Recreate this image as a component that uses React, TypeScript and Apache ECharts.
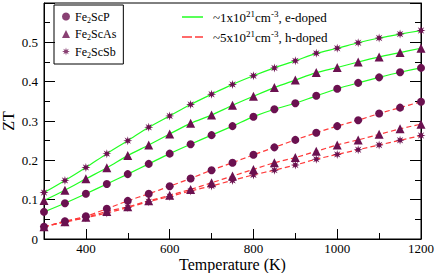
import React, { useEffect, useRef } from "react";
import * as echarts from "echarts";

const temps = [300, 350, 400, 450, 500, 550, 600, 650, 700, 750, 800, 850, 900, 950, 1000, 1050, 1100, 1150, 1200];

const pElec = [0.069, 0.091, 0.115, 0.140, 0.165, 0.191, 0.217, 0.241, 0.264, 0.287, 0.311, 0.330, 0.345, 0.364, 0.382, 0.397, 0.411, 0.424, 0.435];
const asElec = [0.098, 0.124, 0.153, 0.181, 0.212, 0.239, 0.267, 0.294, 0.315, 0.340, 0.363, 0.385, 0.404, 0.423, 0.436, 0.450, 0.463, 0.474, 0.485];
const sbElec = [0.118, 0.149, 0.182, 0.217, 0.250, 0.284, 0.313, 0.342, 0.368, 0.393, 0.415, 0.435, 0.453, 0.472, 0.485, 0.499, 0.511, 0.521, 0.530];

const pHole = [0.031, 0.045, 0.058, 0.077, 0.097, 0.115, 0.134, 0.154, 0.175, 0.194, 0.214, 0.233, 0.252, 0.270, 0.287, 0.302, 0.319, 0.334, 0.349];
const asHole = [0.031, 0.044, 0.055, 0.070, 0.082, 0.097, 0.111, 0.126, 0.143, 0.160, 0.177, 0.194, 0.207, 0.223, 0.239, 0.252, 0.266, 0.280, 0.292];
const sbHole = [0.031, 0.043, 0.054, 0.066, 0.080, 0.095, 0.108, 0.122, 0.135, 0.149, 0.163, 0.175, 0.188, 0.203, 0.215, 0.227, 0.239, 0.251, 0.263];

const compoundNames = ["Fe2ScP", "Fe2ScAs", "Fe2ScSb"];
const compoundLabels = ["Fe{sub|2}ScP", "Fe{sub|2}ScAs", "Fe{sub|2}ScSb"];
const dopingNames = ["e-doped", "h-doped"];
const dopingLabels = ["~1x10{sup|21}cm{sup|-3}, e-doped", "~5x10{sup|21}cm{sup|-3}, h-doped"];
const xMajorTicks = [400, 600, 800, 1000, 1200];

const FONT = "Liberation Serif";
const MARK = "#6b1150";
const GREEN = "#22ff22";
const RED = "#ff3a3a";

function starPath(): string {
  const parts: string[] = [];
  for (let i = 0; i < 16; i++) {
    const a = (i * Math.PI) / 8 - Math.PI / 2;
    const r = i % 2 === 0 ? 1 : 0.42;
    parts.push(`${i === 0 ? "M" : "L"}${(r * Math.cos(a)).toFixed(3)} ${(r * Math.sin(a)).toFixed(3)}`);
  }
  return "path://" + parts.join(" ") + " Z";
}

export default function App() {
  const ref = useRef<HTMLDivElement>(null);
  useEffect(() => {
    if (!ref.current) return;
    const chart = echarts.init(ref.current, undefined, { renderer: "svg" });
    const star = starPath();
    const symbols = ["circle", "triangle", star];
    const symSizes = [8, 9, 9];
    const elecData = [pElec, asElec, sbElec];
    const holeData = [pHole, asHole, sbHole];

    const series: any[] = [];
    for (let k = 0; k < 3; k++) {
      series.push({
        type: "line",
        name: compoundNames[k] + " e",
        data: temps.map((t, i) => [t, elecData[k][i]]),
        smooth: 0.3,
        symbol: symbols[k],
        symbolSize: symSizes[k],
        showAllSymbol: true,
        lineStyle: { color: GREEN, width: 1.2 },
        itemStyle: { color: MARK },
        z: 3,
      });
      series.push({
        type: "line",
        name: compoundNames[k] + " h",
        data: temps.map((t, i) => [t, holeData[k][i]]),
        smooth: 0.3,
        symbol: symbols[k],
        symbolSize: symSizes[k],
        showAllSymbol: true,
        lineStyle: { color: RED, width: 1.2, type: [5, 3] },
        itemStyle: { color: MARK },
        z: 3,
      });
    }
    for (let k = 0; k < 3; k++) {
      series.push({
        type: "scatter",
        name: compoundNames[k],
        data: [],
        symbol: symbols[k],
        symbolSize: symSizes[k],
        itemStyle: { color: MARK },
      });
    }
    series.push({
      type: "line",
      name: dopingNames[0],
      data: [],
      symbol: "none",
      lineStyle: { color: GREEN, width: 1.5 },
      itemStyle: { color: GREEN },
    });
    series.push({
      type: "line",
      name: dopingNames[1],
      data: [],
      symbol: "none",
      lineStyle: { color: RED, width: 1.5, type: [6, 4] },
      itemStyle: { color: RED },
    });

    const labelMap: Record<string, string> = {};
    compoundNames.forEach((n, i) => (labelMap[n] = compoundLabels[i]));
    dopingNames.forEach((n, i) => (labelMap[n] = dopingLabels[i]));

    chart.setOption({
      animation: false,
      backgroundColor: "#ffffff",
      textStyle: { fontFamily: FONT },
      grid: {
        left: 44,
        right: 15,
        top: 3,
        bottom: 34,
        show: true,
        borderColor: "#000",
        borderWidth: 1,
        containLabel: false,
        outerBoundsMode: "none",
      },
      legend: [
        {
          data: compoundNames,
          orient: "vertical",
          left: 54,
          top: 5,
          padding: [5, 7, 5, 8],
          itemGap: 3.5,
          itemWidth: 8,
          itemHeight: 8,
          borderColor: "#000",
          borderWidth: 1,
          formatter: (n: string) => labelMap[n] || n,
          textStyle: {
            fontFamily: FONT,
            fontSize: 12,
            color: "#000",
            lineHeight: 13,
            rich: {
              sub: { fontSize: 8, fontFamily: FONT, padding: [7, 0, 0, 0] },
            },
          },
        },
        {
          data: [
            { name: dopingNames[0], icon: "path://M0 0h21v1.5h-21z" },
            { name: dopingNames[1], icon: "path://M0 0h10v1.5h-10z M13 0h8v1.5h-8z" },
          ],
          orient: "vertical",
          left: 182,
          top: 9,
          padding: 0,
          itemGap: 5.5,
          itemWidth: 21,
          itemHeight: 1.5,
          formatter: (n: string) => labelMap[n] || n,
          textStyle: {
            fontFamily: FONT,
            fontSize: 13,
            color: "#000",
            lineHeight: 13,
            padding: [0, 0, 0, 5],
            rich: {
              sup: { fontSize: 9, fontFamily: FONT, padding: [0, 0, 7, 0] },
            },
          },
        },
      ],
      xAxis: [
        {
          type: "value",
          min: 300,
          max: 1200,
          interval: 100,
          position: "bottom",
          name: "Temperature (K)",
          nameLocation: "middle",
          nameGap: 17,
          nameMoveOverlap: false,
          nameTextStyle: { fontFamily: FONT, fontSize: 16, lineHeight: 16, color: "#000" },
          axisLine: { show: true, lineStyle: { color: "#000", width: 1 } },
          axisTick: { show: true, inside: true, length: 10, customValues: xMajorTicks, lineStyle: { color: "#000" } },
          axisLabel: {
            customValues: xMajorTicks,
            fontFamily: FONT,
            fontSize: 13,
            lineHeight: 13,
            color: "#000",
            margin: 3,
            formatter: (v: number) => String(v),
          },
          splitLine: { show: false },
        },
        {
          type: "value",
          min: 300,
          max: 1200,
          interval: 100,
          position: "bottom",
          axisLine: { show: false },
          axisTick: { show: true, inside: true, length: 6, lineStyle: { color: "#000" } },
          axisLabel: { show: false },
          splitLine: { show: false },
        },
      ],
      yAxis: [
        {
          type: "value",
          min: 0,
          max: 0.6,
          interval: 0.1,
          position: "left",
          name: "ZT",
          nameLocation: "middle",
          nameGap: 28,
          nameMoveOverlap: false,
          nameRotate: 90,
          nameTextStyle: { fontFamily: FONT, fontSize: 16, lineHeight: 16, color: "#000" },
          axisLine: { show: true, lineStyle: { color: "#000", width: 1 } },
          axisTick: { show: true, inside: true, length: 11, lineStyle: { color: "#000" } },
          minorTick: { show: true, splitNumber: 2, length: 6, lineStyle: { color: "#000" } },
          axisLabel: { fontFamily: FONT, fontSize: 13, color: "#000", margin: 6, showMaxLabel: false },
          splitLine: { show: false },
        },
        {
          type: "value",
          min: 0,
          max: 0.6,
          interval: 0.1,
          position: "right",
          axisLine: { show: true, lineStyle: { color: "#000", width: 1 } },
          axisTick: { show: true, inside: true, length: 11, lineStyle: { color: "#000" } },
          minorTick: { show: true, splitNumber: 2, length: 6, lineStyle: { color: "#000" } },
          axisLabel: { show: false },
          splitLine: { show: false },
        },
      ],
      series,
    });
    return () => chart.dispose();
  }, []);
  return <div ref={ref} style={{ position: "absolute", left: 0, top: 0, width: 436, height: 273 }} />;
}
